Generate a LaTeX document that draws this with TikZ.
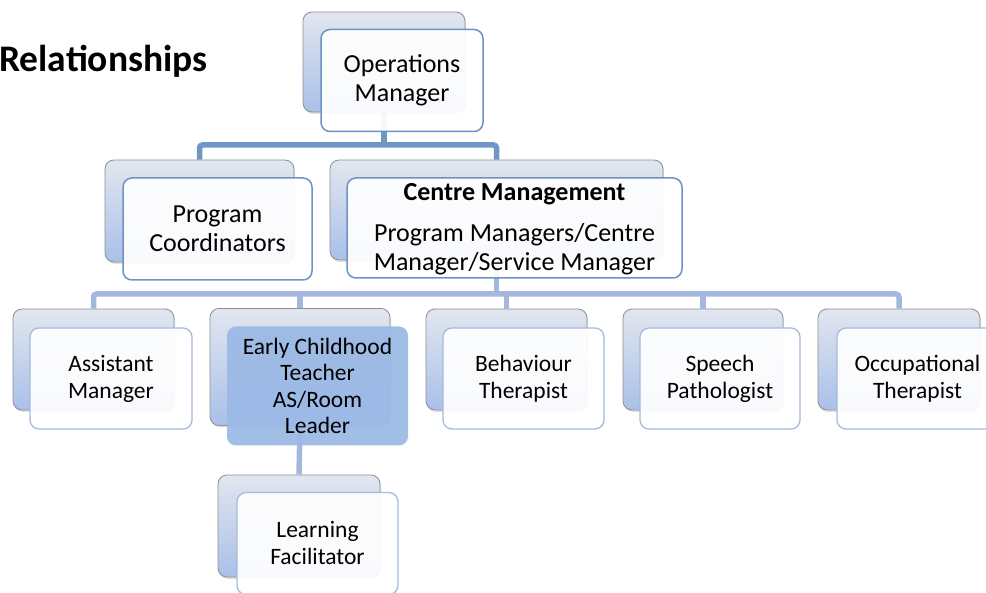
\documentclass[tikz,border=0pt]{standalone}
\usepackage{fontspec}
\setmainfont{Carlito}
\usetikzlibrary{shadows}
\definecolor{connA}{HTML}{7295C7}
\definecolor{connB}{HTML}{A3B8DC}
\definecolor{backtop}{HTML}{E2E6EF}
\definecolor{backbot}{HTML}{A9C0E8}
\definecolor{backline}{HTML}{8E9096}
\definecolor{frontA}{HTML}{6F92C5}
\definecolor{frontB}{HTML}{A4BADF}
\definecolor{ectfill}{HTML}{9CBAE6}
\tikzset{
  conn/.style={line width=5.5pt},
  backbox/.style={rectangle, rounded corners=9pt, draw=backline, line width=0.8pt,
    top color=backtop, bottom color=backbot, inner sep=0pt,
    drop shadow={shadow xshift=1pt, shadow yshift=-2pt, opacity=0.25}},
  frontbox/.style={rectangle, rounded corners=9pt, fill=white, fill opacity=0.93,
    text opacity=1, line width=1.5pt, inner sep=0pt, align=center},
  upper/.style={frontbox, draw=frontA, font=\fontsize{26}{29}\selectfont},
  lower/.style={frontbox, draw=frontB, line width=1.3pt, font=\fontsize{23.5}{27}\selectfont},
}
\begin{document}
\begin{tikzpicture}[x=1pt,y=-1pt]
\useasboundingbox (0,0) rectangle (986,593);
% title
\node[anchor=west, inner sep=0pt, font=\bfseries\fontsize{37.5}{42}\selectfont] (title) at (-1,61) {Relationships};
% back boxes
\node[backbox, minimum width=162, minimum height=100] (omB) at (384,62) {};
\node[backbox, minimum width=189, minimum height=102] (pcB) at (199.5,211) {};
\node[backbox, minimum width=333, minimum height=100] (cmB) at (496.5,210) {};
\node[backbox, minimum width=161, minimum height=101] (amB) at (93.5,359.5) {};
\node[backbox, minimum width=180, minimum height=117] (ectB) at (300,367) {};
\node[backbox, minimum width=161, minimum height=101] (btB) at (506.5,359.5) {};
\node[backbox, minimum width=160, minimum height=101] (spB) at (703,359.5) {};
\node[backbox, minimum width=162, minimum height=101] (otB) at (899,359.5) {};
\node[backbox, minimum width=162, minimum height=102] (lfB) at (299,526) {};
% connectors
\coordinate (bus1) at (384,145);
\coordinate (bus2) at (496.5,294);
\draw[conn, draw=connA] (omB.south) -- (bus1);
\draw[conn, draw=connA, rounded corners=3pt] (pcB.north) |- (bus1) -| (cmB.north);
\draw[conn, draw=connB] (cmB.south) -- (bus2);
\draw[conn, draw=connB, rounded corners=3pt] (amB.north) |- (bus2) -| (otB.north);
\draw[conn, draw=connB] (ectB.north) -- (ectB.north |- bus2);
\draw[conn, draw=connB] (btB.north) -- (btB.north |- bus2);
\draw[conn, draw=connB] (spB.north) -- (spB.north |- bus2);
\draw[conn, draw=connB] (ectB.south) -- (lfB.north);
% front boxes
\node[upper, minimum width=162, minimum height=102] (om) at (402,80.5) {Operations\\Manager};
\node[upper, minimum width=189, minimum height=102] (pc) at (217.5,229) {Program\\Coordinators};
\node[upper, minimum width=335, minimum height=100] (cm) at (514.5,228) {};
\node[font=\bfseries\fontsize{26}{29}\selectfont, inner sep=0pt] (cmt) at (514.5,194) {Centre Management};
\node[font=\fontsize{26}{29}\selectfont, align=center, inner sep=0pt] (cmd) at (514.5,249.5) {Program Managers/Centre\\Manager/Service Manager};
\node[lower, minimum width=162, minimum height=101] (am) at (111,378.5) {Assistant\\Manager};
\node[frontbox, draw=none, fill=ectfill, fill opacity=0.95, font=\fontsize{23.5}{26.5}\selectfont,
  minimum width=181, minimum height=119] (ect) at (317.5,386) {Early Childhood\\Teacher\\AS/Room\\Leader};
\node[lower, minimum width=161, minimum height=101] (bt) at (523.5,378.5) {Behaviour\\Therapist};
\node[lower, minimum width=160, minimum height=101] (sp) at (720,378.5) {Speech\\Pathologist};
\node[lower, minimum width=161, minimum height=101] (ot) at (917.5,378.5) {Occupational\\Therapist};
\node[lower, minimum width=161, minimum height=102] (lf) at (317.5,543.5) {Learning\\Facilitator};
\end{tikzpicture}
\end{document}
